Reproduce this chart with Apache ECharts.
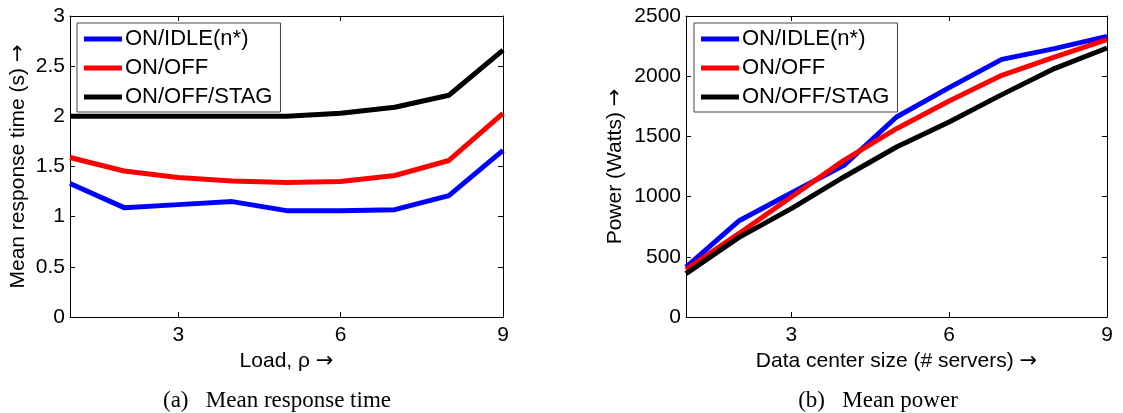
<!DOCTYPE html>
<html>
<head>
<meta charset="utf-8">
<script src="https://cdn.jsdelivr.net/npm/echarts@6/dist/echarts.min.js"></script>
<style>
  html, body { margin: 0; padding: 0; background: #fff; }
  #main { width: 1123px; height: 413px; }
</style>
</head>
<body>
<div id="main"></div>
<script>
// x positions (1..9)
const xs = [1, 2, 3, 4, 5, 6, 7, 8, 9];
const seriesNames = ["ON/IDLE(n*)", "ON/OFF", "ON/OFF/STAG"];
const colors = ["#0000ff", "#ff0000", "#000000"];

// (a) mean response time (s)
const respIdle = [1.33, 1.09, 1.12, 1.15, 1.06, 1.06, 1.07, 1.21, 1.66];
const respOff = [1.59, 1.455, 1.39, 1.355, 1.34, 1.35, 1.41, 1.56, 2.03];
const respStag = [2.0, 2.0, 2.0, 2.0, 2.0, 2.03, 2.09, 2.21, 2.66];

// (b) mean power (Watts)
const powIdle = [415, 797, 1030, 1260, 1661, 1905, 2140, 2229, 2331];
const powOff = [393, 692, 997, 1301, 1564, 1794, 2007, 2159, 2303];
const powStag = [360, 659, 900, 1163, 1412, 1620, 1847, 2063, 2234];

const xTicks = [3, 6, 9];

const font = "Arial, 'Liberation Sans', sans-serif";
const serif = "'Times New Roman', 'Liberation Serif', serif";

const myChart = echarts.init(document.querySelector("#main"));

function pairs(vals) {
  return vals.map((v, i) => [xs[i], v]);
}

function line(name, vals, idx, grid) {
  return {
    name: name,
    type: "line",
    xAxisIndex: grid * 2,
    yAxisIndex: grid * 2,
    data: pairs(vals),
    symbol: "none",
    color: colors[idx],
    lineStyle: { width: 5, color: colors[idx] },
    animation: false,
  };
}

// 轴标题里的箭头用 DejaVu Sans，大一点
const nameStyle = {
  color: "#000",
  fontSize: 21,
  fontFamily: font,
  rich: {
    arr: { color: "#000", fontSize: 21, fontFamily: "'DejaVu Sans'" },
  },
};

function bottomAxis(grid, name, gap) {
  return {
    gridIndex: grid,
    type: "value",
    position: "bottom",
    min: 1,
    max: 9,
    name: name,
    nameLocation: "middle",
    nameGap: gap,
    nameTextStyle: nameStyle,
    axisLine: { show: true, onZero: false, lineStyle: { color: "#000", width: 1 } },
    axisTick: { show: true, inside: true, length: 5, customValues: xTicks, lineStyle: { color: "#000" } },
    axisLabel: { show: true, customValues: xTicks, margin: 8, color: "#000", fontSize: 21, fontFamily: font },
    splitLine: { show: false },
  };
}

function topAxis(grid) {
  return {
    gridIndex: grid,
    type: "value",
    position: "top",
    min: 1,
    max: 9,
    axisLine: { show: true, onZero: false, lineStyle: { color: "#000", width: 1 } },
    axisTick: { show: true, inside: true, length: 5, customValues: [3, 6], lineStyle: { color: "#000" } },
    axisLabel: { show: false },
    splitLine: { show: false },
  };
}

function leftAxis(grid, max, interval, name, gap) {
  return {
    gridIndex: grid,
    type: "value",
    position: "left",
    min: 0,
    max: max,
    interval: interval,
    name: name,
    nameLocation: "middle",
    nameGap: gap,
    nameTextStyle: nameStyle,
    axisLine: { show: true, onZero: false, lineStyle: { color: "#000", width: 1 } },
    axisTick: { show: true, inside: true, length: 5, lineStyle: { color: "#000" } },
    axisLabel: { margin: 5, color: "#000", fontSize: 21, fontFamily: font, formatter: (v) => String(v) },
    splitLine: { show: false },
  };
}

function rightAxis(grid, max, interval) {
  return {
    gridIndex: grid,
    type: "value",
    position: "right",
    min: 0,
    max: max,
    interval: interval,
    axisLine: { show: true, onZero: false, lineStyle: { color: "#000", width: 1 } },
    axisTick: { show: true, inside: true, length: 5, lineStyle: { color: "#000" } },
    axisLabel: { show: false },
    splitLine: { show: false },
  };
}

function legend(left) {
  return {
    orient: "vertical",
    left: left,
    top: 23,
    data: seriesNames,
    icon: "rect",
    itemWidth: 38,
    itemHeight: 5,
    itemGap: 7,
    padding: [5, 8, 4, 7],
    backgroundColor: "#fff",
    borderColor: "#444",
    borderWidth: 1,
    borderRadius: 0,
    selectedMode: false,
    textStyle: { color: "#000", fontSize: 22, fontFamily: font, padding: [0, 0, 0, -2] },
    z: 10,
  };
}

const option = {
  animation: false,
  backgroundColor: "#fff",
  grid: [
    { left: 70, top: 16, width: 433, height: 301, outerBoundsMode: "none" },
    { left: 686, top: 16, width: 421, height: 301, outerBoundsMode: "none" },
  ],
  xAxis: [
    bottomAxis(0, "Load, ρ {arr|→}", 29),
    topAxis(0),
    bottomAxis(1, "Data center size (# servers) {arr|→}", 29),
    topAxis(1),
  ],
  yAxis: [
    leftAxis(0, 3, 0.5, "Mean response time (s) {arr|→}", 41),
    rightAxis(0, 3, 0.5),
    leftAxis(1, 2500, 500, "Power (Watts) {arr|→}", 60),
    rightAxis(1, 2500, 500),
  ],
  legend: [legend(77), legend(694)],
  series: [
    line(seriesNames[0], respIdle, 0, 0),
    line(seriesNames[1], respOff, 1, 0),
    line(seriesNames[2], respStag, 2, 0),
    line(seriesNames[0], powIdle, 0, 1),
    line(seriesNames[1], powOff, 1, 1),
    line(seriesNames[2], powStag, 2, 1),
  ],
  graphic: [
    {
      type: "text",
      x: 277,
      y: 401,
      style: { text: "(a)   Mean response time", font: "23px " + serif, fill: "#000", align: "center", verticalAlign: "middle" },
    },
    {
      type: "text",
      x: 878,
      y: 401,
      style: { text: "(b)   Mean power", font: "23px " + serif, fill: "#000", align: "center", verticalAlign: "middle" },
    },
  ],
};

myChart.setOption(option);
</script>
</body>
</html>
